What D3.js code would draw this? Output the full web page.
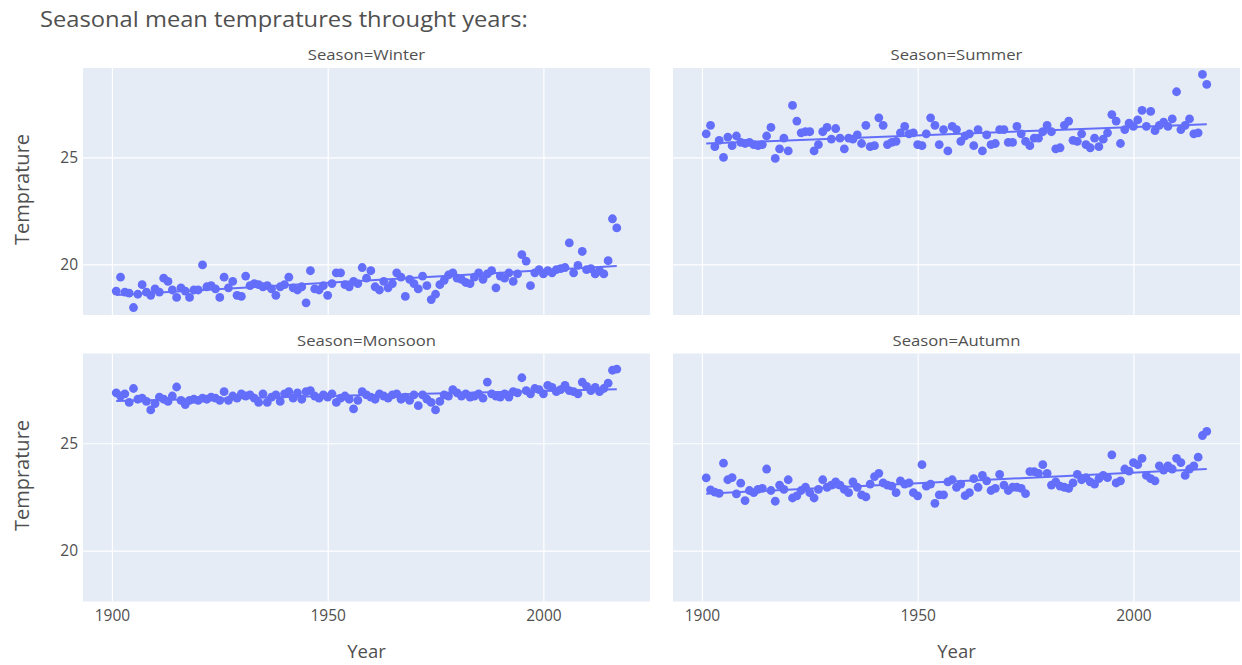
<!DOCTYPE html>
<html>
<head>
<meta charset="utf-8">
<script src="https://cdn.jsdelivr.net/npm/d3@7"></script>
<style>
  body { margin: 0; background: #fff; }
  svg text { font-family: "Open Sans", "DejaVu Sans", sans-serif; }
</style>
</head>
<body>
<svg id="chart" width="1242" height="665"></svg>
<script>
// Years covered by the seasonal series
const years = d3.range(1901, 2018);

// Seasonal mean temperature (°C), one value per year 1901–2017
const winter = [
  18.75, 19.40, 18.70, 18.65, 17.98, 18.60, 19.05, 18.70, 18.55, 18.85,
  18.70, 19.35, 19.20, 18.80, 18.45, 18.90, 18.75, 18.45, 18.80, 18.80,
  19.97, 18.95, 19.00, 18.85, 18.45, 19.40, 18.90, 19.20, 18.55, 18.50,
  19.45, 19.00, 19.10, 19.05, 18.95, 19.00, 18.85, 18.55, 18.95, 19.05,
  19.40, 18.90, 18.80, 18.95, 18.20, 19.70, 18.85, 18.80, 19.00, 18.55,
  19.10, 19.60, 19.60, 19.05, 18.95, 19.20, 19.10, 19.85, 19.35, 19.70,
  18.95, 18.80, 19.20, 18.90, 19.10, 19.60, 19.40, 18.50, 19.30, 19.10,
  18.85, 19.45, 19.00, 18.35, 18.60, 19.05, 19.25, 19.50, 19.60, 19.35,
  19.30, 19.15, 19.10, 19.40, 19.60, 19.30, 19.55, 19.70, 18.90, 19.45,
  19.35, 19.60, 19.20, 19.55, 20.45, 20.15, 19.00, 19.60, 19.75, 19.55,
  19.70, 19.60, 19.75, 19.80, 19.85, 21.00, 19.60, 19.95, 20.60, 19.75,
  19.80, 19.55, 19.70, 19.55, 20.17, 22.13, 21.70
];
const summer = [
  26.10, 26.50, 25.50, 25.80, 25.00, 25.95, 25.55, 26.00, 25.70, 25.65,
  25.70, 25.60, 25.55, 25.60, 26.00, 26.40, 24.95, 25.40, 25.90, 25.30,
  27.43, 26.70, 26.15, 26.20, 26.20, 25.30, 25.60, 26.20, 26.40, 25.85,
  26.35, 25.90, 25.40, 25.90, 25.85, 26.05, 25.65, 26.50, 25.50, 25.55,
  26.85, 26.50, 25.60, 25.70, 25.75, 26.15, 26.45, 26.10, 26.15, 25.60,
  25.55, 26.10, 26.85, 26.50, 25.60, 26.30, 25.30, 26.45, 26.30, 25.75,
  26.00, 26.10, 25.55, 26.30, 25.30, 26.05, 25.60, 25.65, 26.30, 26.30,
  25.70, 25.70, 26.45, 26.10, 25.75, 25.55, 25.90, 25.90, 26.20, 26.50,
  26.20, 25.40, 25.45, 26.50, 26.70, 25.80, 25.75, 26.10, 25.60, 25.45,
  25.90, 25.50, 25.85, 26.15, 27.00, 26.70, 25.65, 26.30, 26.60, 26.45,
  26.75, 27.20, 26.45, 27.15, 26.25, 26.50, 26.65, 26.45, 26.80, 28.07,
  26.30, 26.50, 26.80, 26.10, 26.15, 28.88, 28.41
];
const monsoon = [
  27.35, 27.20, 27.30, 26.90, 27.55, 27.05, 27.10, 26.95, 26.55, 26.85,
  27.15, 27.05, 26.95, 27.20, 27.62, 27.00, 26.80, 27.00, 27.05, 27.00,
  27.10, 27.05, 27.15, 27.10, 27.00, 27.40, 27.00, 27.20, 27.10, 27.30,
  27.20, 27.25, 27.10, 26.90, 27.30, 26.90, 27.15, 27.25, 26.95, 27.30,
  27.40, 27.10, 27.35, 27.05, 27.40, 27.45, 27.20, 27.10, 27.25, 27.15,
  27.30, 26.90, 27.10, 27.20, 27.05, 26.60, 27.00, 27.40, 27.25, 27.15,
  27.05, 27.30, 27.20, 27.10, 27.25, 27.30, 27.05, 27.15, 27.00, 27.25,
  26.75, 27.25, 27.05, 26.90, 26.55, 26.95, 27.25, 27.20, 27.50, 27.35,
  27.20, 27.30, 27.15, 27.20, 27.30, 27.10, 27.85, 27.30, 27.20, 27.15,
  27.30, 27.15, 27.40, 27.35, 28.05, 27.45, 27.30, 27.55, 27.50, 27.30,
  27.70, 27.60, 27.40, 27.50, 27.70, 27.45, 27.40, 27.30, 27.85, 27.65,
  27.45, 27.60, 27.40, 27.55, 27.80, 28.40, 28.45
];
const autumn = [
  23.39, 22.83, 22.72, 22.67, 24.07, 23.30, 23.40, 22.64, 23.14, 22.33,
  22.80, 22.70, 22.85, 22.90, 23.80, 22.80, 22.30, 23.05, 22.85, 23.30,
  22.45, 22.55, 22.80, 22.95, 22.70, 22.45, 22.85, 23.30, 22.95, 23.05,
  23.20, 23.05, 22.85, 22.70, 23.20, 22.95, 22.60, 22.50, 23.10, 23.45,
  23.60, 23.15, 23.05, 23.00, 22.70, 23.25, 23.10, 23.15, 22.70, 22.55,
  24.00, 23.00, 23.10, 22.20, 22.60, 22.60, 23.20, 23.30, 22.95, 23.10,
  22.56, 22.70, 23.35, 22.95, 23.50, 23.25, 22.80, 22.90, 23.55, 23.05,
  22.80, 22.95, 22.95, 22.90, 22.65, 23.68, 23.68, 23.60, 24.00, 23.60,
  23.05, 23.20, 23.00, 22.95, 22.90, 23.15, 23.55, 23.30, 23.40, 23.20,
  23.10, 23.35, 23.50, 23.40, 24.46, 23.15, 23.25, 23.80, 23.70, 24.10,
  24.00, 24.30, 23.50, 23.35, 23.25, 23.95, 23.75, 23.95, 23.80, 24.30,
  24.10, 23.50, 23.80, 23.95, 24.35, 25.36, 25.55
];

const seasonNames = ["Winter", "Summer", "Monsoon", "Autumn"];
const seasonValues = [winter, summer, monsoon, autumn];
const xTickValues = [1900, 1950, 2000];
const yTickValues = [20, 25];

// ---- layout -------------------------------------------------------------
const svg = d3.select("#chart");
const color = "#636efa";
const textColor = "#505050";
const cols = [[83, 650], [673, 1240]];
const rows = [[68, 315], [353.5, 601.5]];
const xDomain = [1893.3, 2024.7];
const yDomain = [17.63, 29.18];

svg.append("text")
  .attr("transform", "translate(40,27) scale(1.13,1)")
  .attr("font-size", 21)
  .attr("fill", textColor)
  .text("Seasonal mean tempratures throught years:");

// Ordinary least squares fit used for the trend line
function olsFit(xs, ys) {
  const mx = d3.mean(xs), my = d3.mean(ys);
  let sxy = 0, sxx = 0;
  xs.forEach((xv, i) => { sxy += (xv - mx) * (ys[i] - my); sxx += (xv - mx) ** 2; });
  const slope = sxy / sxx;
  return xv => my + slope * (xv - mx);
}

seasonNames.forEach((name, i) => {
  const col = i % 2, row = Math.floor(i / 2);
  const [x0, x1] = cols[col];
  const [y0, y1] = rows[row];
  const x = d3.scaleLinear().domain(xDomain).range([x0, x1]);
  const y = d3.scaleLinear().domain(yDomain).range([y1, y0]);
  const g = svg.append("g");

  g.append("rect")
    .attr("x", x0).attr("y", y0)
    .attr("width", x1 - x0).attr("height", y1 - y0)
    .attr("fill", "#e5ecf6");

  // grid
  const gx = g.append("g").attr("transform", `translate(0,${y1})`)
    .call(d3.axisBottom(x).tickValues(xTickValues).tickSize(-(y1 - y0)).tickFormat(""));
  const gy = g.append("g").attr("transform", `translate(${x0},0)`)
    .call(d3.axisLeft(y).tickValues(yTickValues).tickSize(-(x1 - x0)).tickFormat(""));
  [gx, gy].forEach(a => {
    a.select(".domain").remove();
    a.selectAll(".tick line").attr("stroke", "#fff").attr("stroke-width", 1.2);
  });

  // tick labels on outer axes only
  if (row === 1) {
    const lx = g.append("g").attr("transform", `translate(0,${y1})`)
      .call(d3.axisBottom(x).tickValues(xTickValues).tickSize(0).tickPadding(8).tickFormat(d3.format("d")));
    lx.select(".domain").remove();
    lx.selectAll("text").attr("font-size", 15.5).attr("fill", textColor).attr("font-family", null);
    svg.append("text")
      .attr("x", (x0 + x1) / 2).attr("y", 658)
      .attr("text-anchor", "middle")
      .attr("font-size", 18.5).attr("fill", textColor)
      .text("Year");
  }
  if (col === 0) {
    const ly = g.append("g").attr("transform", `translate(${x0},0)`)
      .call(d3.axisLeft(y).tickValues(yTickValues).tickSize(0).tickPadding(5));
    ly.select(".domain").remove();
    ly.selectAll("text").attr("font-size", 15.5).attr("fill", textColor).attr("font-family", null);
    const cy = (y0 + y1) / 2 - 2;
    svg.append("text")
      .attr("transform", `translate(29,${cy}) rotate(-90)`)
      .attr("text-anchor", "middle")
      .attr("font-size", 20).attr("fill", textColor)
      .text("Temprature");
  }

  // facet title
  svg.append("text")
    .attr("transform", `translate(${(x0 + x1) / 2},${y0 - 8}) scale(1.15,1)`)
    .attr("text-anchor", "middle")
    .attr("font-size", 14.5).attr("fill", textColor)
    .text(`Season=${name}`);

  const vals = seasonValues[i];
  const pts = years.map((yr, k) => ({ year: yr, value: vals[k] }));

  g.append("g").selectAll("circle")
    .data(pts)
    .join("circle")
    .attr("cx", d => x(d.year))
    .attr("cy", d => y(d.value))
    .attr("r", 4.4)
    .attr("fill", color);

  const fit = olsFit(years, vals);
  const ends = [years[0], years[years.length - 1]];
  g.append("path")
    .attr("d", d3.line().x(d => x(d)).y(d => y(fit(d)))(ends))
    .attr("fill", "none")
    .attr("stroke", color)
    .attr("stroke-width", 2);
});
</script>
</body>
</html>
